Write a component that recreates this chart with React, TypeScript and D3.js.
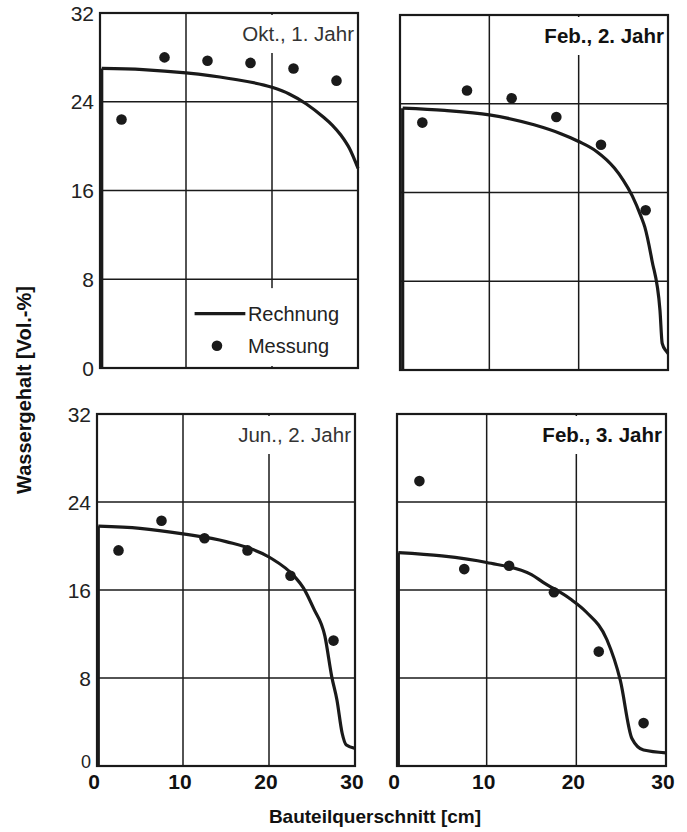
import React from 'react';
import * as d3 from 'd3';

const width = 687;
const height = 832;

const xTicks = [0, 10, 20, 30];
const yTicks = [0, 8, 16, 24, 32];

const panelLabels = ['Okt., 1. Jahr', 'Feb., 2. Jahr', 'Jun., 2. Jahr', 'Feb., 3. Jahr'];

// Messung: positions across the section (cm)
const messX = [2.5, 7.5, 12.5, 17.5, 22.5, 27.5];
const messOkt1 = [22.4, 28.0, 27.7, 27.5, 27.0, 25.9];
const messFeb2 = [22.3, 25.2, 24.5, 22.8, 20.3, 14.4];
const messJun2 = [19.6, 22.3, 20.7, 19.6, 17.3, 11.4];
const messFeb3 = [25.9, 17.9, 18.2, 15.8, 10.4, 3.9];

// Rechnung: [x, water content]
const calcOkt1 = [[0.2, 0], [0.2, 27.0], [5, 26.9], [10, 26.6], [15, 26.1], [20, 25.3], [22, 24.7], [24, 23.8], [26, 22.6], [27, 21.9], [28, 21.0], [29, 19.8], [30, 18.0]];
const calcFeb2 = [[0.3, 0], [0.3, 23.6], [5, 23.4], [10, 23.0], [15, 22.1], [18, 21.3], [20, 20.6], [22, 19.7], [24, 18.2], [25, 17.1], [26, 15.7], [27, 13.8], [27.4, 12.9], [28.2, 9.9], [29.1, 5.4], [29.35, 2.4], [29.8, 1.7], [30, 1.5]];
const calcJun2 = [[0.15, 0], [0.15, 21.8], [5, 21.6], [10, 21.1], [15, 20.4], [20, 19.0], [23, 17.2], [24, 16.2], [25.2, 14.3], [26.5, 11.8], [27.3, 8.1], [27.9, 6.0], [28.5, 3.0], [29.0, 1.9], [30, 1.6]];
const calcFeb3 = [[0.15, 0], [0.15, 19.4], [5, 19.1], [10, 18.5], [15, 17.4], [16.3, 16.7], [19.3, 15.2], [21.1, 14.0], [23.4, 11.5], [24.9, 7.8], [26.2, 2.5], [27.5, 1.45], [30, 1.2]];

const panels = [
  { label: panelLabels[0], bold: false, mess: messOkt1, calc: calcOkt1, x0: 100, x1: 358, y0: 13, y1: 368, yAxis: true, xAxis: false, legend: true },
  { label: panelLabels[1], bold: true, mess: messFeb2, calc: calcFeb2, x0: 400, x1: 668, y0: 15, y1: 370, yAxis: false, xAxis: false, legend: false },
  { label: panelLabels[2], bold: false, mess: messJun2, calc: calcJun2, x0: 97, x1: 355, y0: 414, y1: 766, yAxis: true, xAxis: true, legend: false },
  { label: panelLabels[3], bold: true, mess: messFeb3, calc: calcFeb3, x0: 397, x1: 666, y0: 414, y1: 766, yAxis: false, xAxis: true, legend: false },
];

const font = '"Liberation Sans", Arial, Helvetica, sans-serif';
const ink = '#1a1a1a';

const Panel = ({ p }) => {
  const x = d3.scaleLinear().domain([0, 30]).range([p.x0, p.x1]);
  const y = d3.scaleLinear().domain([0, 32]).range([p.y1, p.y0]);
  const edge = d3.line().x(d => x(d[0])).y(d => y(d[1]));
  const curve = d3.line().x(d => x(d[0])).y(d => y(d[1])).curve(d3.curveMonotoneX);

  return (
    <g>
      {yTicks.map(t => (
        <line key={'h' + t} x1={p.x0} x2={p.x1} y1={y(t)} y2={y(t)} stroke={ink} strokeWidth={1.5} />
      ))}
      {xTicks.map(t => (
        <line key={'v' + t} x1={x(t)} x2={x(t)} y1={p.y0} y2={p.y1} stroke={ink} strokeWidth={1.5} />
      ))}
      <rect x={x(16.1)} y={p.y0 + 2} width={p.x1 - x(16.1) - 2} height={38} fill="#fff" />
      {p.legend && <rect x={x(10.5)} y={y(7.2)} width={p.x1 - x(10.5) - 2} height={y(0) - y(7.2) - 2} fill="#fff" />}
      <rect x={p.x0} y={p.y0} width={p.x1 - p.x0} height={p.y1 - p.y0} fill="none" stroke={ink} strokeWidth={2.2} />
      <text x={p.x1 - 4} y={p.y0 + 28} textAnchor="end" fontFamily={font} fontSize={20.5}
        fontWeight={p.bold ? 'bold' : 'normal'} fill={p.bold ? '#111' : '#333'}>{p.label}</text>
      <path d={edge(p.calc.slice(0, 2))} fill="none" stroke={ink} strokeWidth={3.2} />
      <path d={curve(p.calc.slice(1))} fill="none" stroke={ink} strokeWidth={3.2} strokeLinejoin="round" />
      {p.mess.map((v, i) => (
        <circle key={i} cx={x(messX[i])} cy={y(v)} r={5.3} fill={ink} />
      ))}
      {p.yAxis && yTicks.map(t => (
        <text key={'yt' + t} x={p.x0 - 6} y={y(t) - (t === 0 && p.xAxis ? 4 : 0)} dy="0.36em" textAnchor="end" fontFamily={font}
          fontSize={t === 0 && p.xAxis ? 18 : 21} fill="#222">{t}</text>
      ))}
      {p.xAxis && xTicks.map(t => (
        <text key={'xt' + t} x={x(t) - 3} y={p.y1 + 23} textAnchor="middle" fontFamily={font} fontSize={21} fontWeight="bold" fill="#111">{t}</text>
      ))}
      {p.legend && (
        <g fontFamily={font} fontSize={20} fill="#222">
          <line x1={x(11)} x2={x(16.9)} y1={y(4.9)} y2={y(4.9)} stroke={ink} strokeWidth={3.2} />
          <text x={x(17.2)} y={y(4.9)} dy="0.36em">Rechnung</text>
          <circle cx={x(13.6)} cy={y(2.0)} r={5.3} fill={ink} />
          <text x={x(17.2)} y={y(2.0)} dy="0.36em">Messung</text>
        </g>
      )}
    </g>
  );
};

const App = () => {
  return (
    <svg width={width} height={height} style={{ position: 'absolute', left: 0, top: 0, background: '#fff' }}>
      <rect width={width} height={height} fill="#fff" />
      {panels.map((p, i) => <Panel key={i} p={p} />)}
      <text x={375} y={823} textAnchor="middle" fontFamily={font} fontSize={19} fontWeight="bold" fill="#111">Bauteilquerschnitt [cm]</text>
      <text transform="translate(31, 390) rotate(-90)" textAnchor="middle" fontFamily={font} fontSize={20} fontWeight="bold" fill="#111">Wassergehalt [Vol.-%]</text>
    </svg>
  );
};

export default App;
